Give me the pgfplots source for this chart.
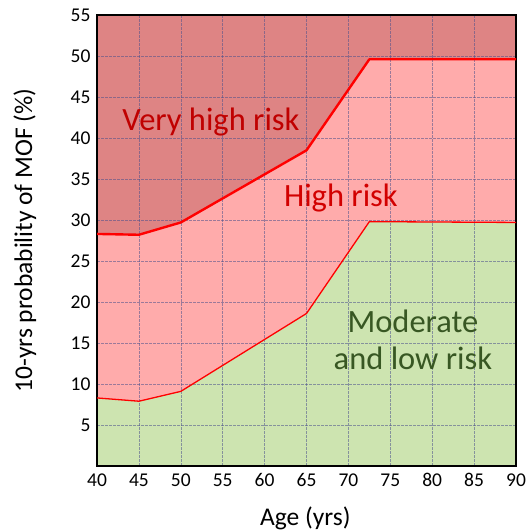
\documentclass[border=0pt]{standalone}
\usepackage{pgfplots}
\pgfplotsset{compat=1.18}
\usepackage{fontspec}
\setmainfont{Carlito}
\definecolor{vhigh}{RGB}{222,132,132}
\definecolor{high}{RGB}{255,171,171}
\definecolor{modlow}{RGB}{205,228,176}
\definecolor{gridc}{RGB}{75,80,140}
\definecolor{darkred}{RGB}{192,0,0}
\definecolor{hired}{RGB}{210,0,0}
\definecolor{dgreen}{RGB}{56,87,35}
\begin{document}
\begin{tikzpicture}
\begin{axis}[
  set layers=standard,
  scale only axis,
  width=419pt, height=451pt,
  xmin=40, xmax=90, ymin=0, ymax=55,
  xtick={40,45,...,90},
  ytick={5,10,...,55},
  major tick length=0pt,
  grid=major,
  major grid style={gridc, opacity=0.55, line width=0.6pt, dash pattern=on 2.5pt off 1.5pt},
  axis line style={black, line width=2.8pt},
  axis background/.style={fill=vhigh},
  tick label style={font=\fontsize{19.5}{22}\selectfont},
  /pgf/number format/assume math mode=true,
  xticklabel style={yshift=-4pt},
  yticklabel style={xshift=-3pt},
  xlabel={Age (yrs)},
  ylabel={10-yrs probability of MOF (\%)},
  label style={font=\fontsize{25.5}{29}\selectfont},
  xlabel style={at={(axis description cs:0.497,-0.115)}, anchor=center},
  ylabel style={at={(axis description cs:-0.172,0.5)}, anchor=center, rotate=0},
  clip=true,
]
\addplot[fill=high, draw=none, on layer=axis background] coordinates {
  (40,28.3) (45,28.2) (50,29.7) (65,38.5) (72.5,49.6) (90,49.6)
} \closedcycle;
\addplot[fill=modlow, draw=none, on layer=axis background] coordinates {
  (40,8.3) (45,7.9) (50,9.1) (65,18.6) (72.5,29.8) (90,29.7)
} \closedcycle;
\addplot[red, line width=2.4pt, line join=round] coordinates {
  (40,28.3) (45,28.2) (50,29.7) (65,38.5) (72.5,49.6) (90,49.6)
};
\addplot[red, line width=1.3pt, line join=round] coordinates {
  (40,8.3) (45,7.9) (50,9.1) (65,18.6) (72.5,29.8) (90,29.7)
};
\node[darkred, font=\fontsize{32.5}{37}\selectfont] at (axis cs:53.6,42.0) {Very high risk};
\node[hired, font=\fontsize{32.5}{37}\selectfont] at (axis cs:69.1,32.7) {High risk};
\node[dgreen, font=\fontsize{32.5}{37}\selectfont, align=center] at (axis cs:77.7,15.4) {Moderate\\and low risk};
\coordinate (sw) at (rel axis cs:0,0);
\coordinate (ne) at (rel axis cs:1,1);
\end{axis}
\pgfresetboundingbox
\path ([shift={(-97pt,-64pt)}]sw) rectangle ([shift={(10pt,15pt)}]ne);
\end{tikzpicture}
\end{document}
